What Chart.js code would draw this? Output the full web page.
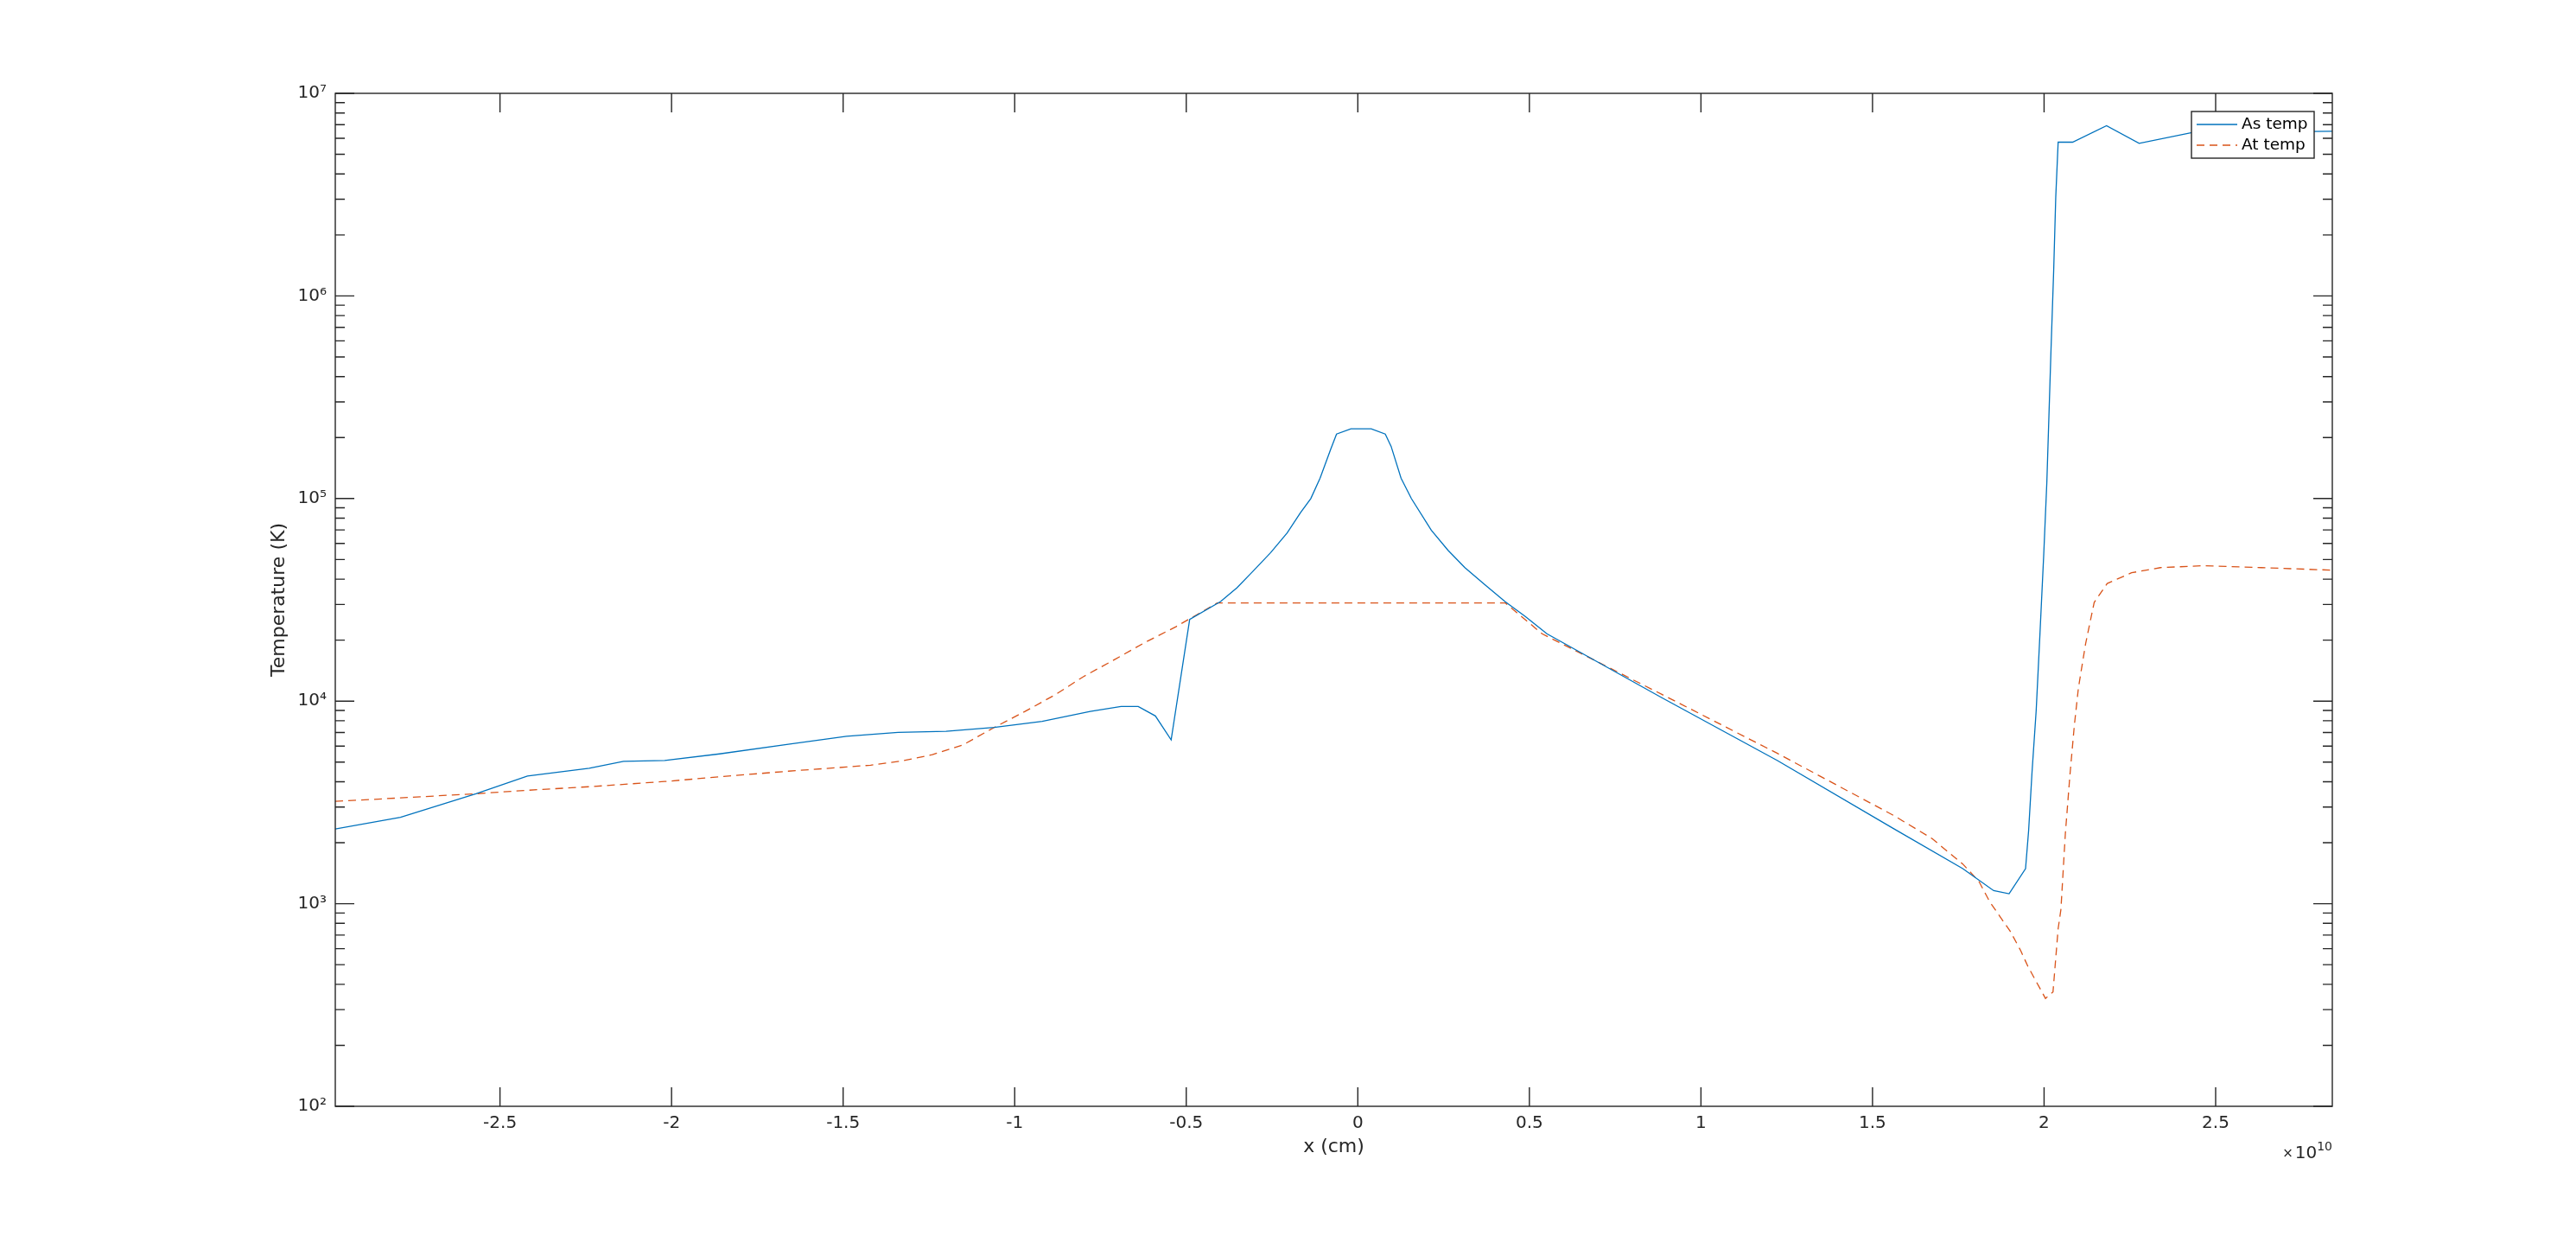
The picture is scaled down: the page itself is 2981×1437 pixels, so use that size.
<!DOCTYPE html>
<html>
<head>
<meta charset="utf-8">
<script src="https://cdn.jsdelivr.net/npm/chart.js@4.4.1/dist/chart.umd.min.js"></script>
<style>
  html, body { margin: 0; padding: 0; background: #fff; }
  canvas { display: block; }
</style>
</head>
<body>
<canvas id="temp_chart" width="2981" height="1437"></canvas>
<script>
// x positions are in units of 1e10 cm, temperatures in K
const as_x = [-2.98, -2.79, -2.57, -2.42, -2.24, -2.14, -2.02, -1.86, -1.66, -1.49, -1.34, -1.20,
    -1.06, -0.92, -0.78, -0.69, -0.64, -0.59, -0.544, -0.49, -0.40, -0.352, -0.303, -0.254, -0.206,
    -0.167, -0.137, -0.110, -0.079, -0.062, -0.02, 0.039, 0.080, 0.097, 0.126, 0.156, 0.214, 0.263,
    0.312, 0.371, 0.429, 0.488, 0.551, 0.886, 1.223, 1.561,
    1.763, 1.853, 1.898, 1.946, 1.955, 1.965, 1.977, 1.988, 1.999, 2.008, 2.020, 2.028, 2.034,
    2.041, 2.083, 2.182, 2.277, 2.431, 2.84];
const as_temp = [2340, 2670, 3490, 4270, 4660, 5040, 5090, 5490, 6120, 6710, 7010, 7100,
    7410, 7940, 8900, 9410, 9410, 8450, 6440, 25300, 31000, 36300, 44200, 54100, 67600,
    85100, 100000, 126000, 175000, 208000, 221000, 221000, 208000, 181000, 126000, 100000, 69800, 55500,
    45600, 37500, 31000, 26200, 21500, 10400, 5090, 2350,
    1490, 1160, 1120, 1490, 2300, 4500, 9000, 21500, 53000, 120000, 530000, 1340000, 3070000,
    5740000, 5740000, 6920000, 5660000, 6400000, 6500000];

const at_x = [-2.98, -2.79, -2.57, -2.42, -2.24, -2.02, -1.86, -1.66, -1.49, -1.42, -1.33, -1.24,
    -1.15, -1.06, -0.97, -0.88, -0.80, -0.71, -0.62, -0.53, -0.41, 0.43, 0.537, 0.886, 1.223,
    1.561, 1.673, 1.763, 1.810, 1.842, 1.902, 1.932, 1.953, 2.004, 2.026, 2.041, 2.049, 2.062,
    2.075, 2.088, 2.100, 2.121, 2.146, 2.184, 2.255, 2.339, 2.465, 2.633, 2.84];
const at_temp = [3200, 3330, 3490, 3630, 3780, 4010, 4230, 4510, 4730, 4830, 5060, 5440,
    6090, 7410, 8890, 10800, 13200, 16000, 19500, 23300, 30500, 30500, 21500, 10800, 5520,
    2730, 2100, 1570, 1290, 1020, 728, 586, 490, 341, 367, 753, 935, 2220,
    4250, 7530, 11600, 19200, 30700, 38100, 43000, 45600, 46600, 45600, 44300];

const x_ticks = [-2.5, -2, -1.5, -1, -0.5, 0, 0.5, 1, 1.5, 2, 2.5];
const y_ticks = [1e2, 1e3, 1e4, 1e5, 1e6, 1e7];
const x_exponent = 10;

const axis_color = '#262626';
const sup_digits = {'0': '⁰', '1': '¹', '2': '²', '3': '³', '4': '⁴', '5': '⁵', '6': '⁶', '7': '⁷', '8': '⁸', '9': '⁹', '-': '⁻'};

function to_sup(n) {
    return String(n).split('').map(c => sup_digits[c]).join('');
}

function to_points(xs, ys) {
    return xs.map((x, i) => ({x: x, y: ys[i]}));
}

// box, inward ticks, legend and the x10^10 label, matlab style
const matlab_axes = {
    id: 'matlab_axes',
    afterDraw(chart) {
        const ctx = chart.ctx;
        const area = chart.chartArea;
        const xs = chart.scales.x;
        const ys = chart.scales.y;
        ctx.save();
        ctx.strokeStyle = axis_color;
        ctx.lineWidth = 1.4;
        ctx.strokeRect(area.left, area.top, area.right - area.left, area.bottom - area.top);

        ctx.beginPath();
        x_ticks.forEach(v => {
            const px = xs.getPixelForValue(v);
            ctx.moveTo(px, area.bottom);
            ctx.lineTo(px, area.bottom - 22);
            ctx.moveTo(px, area.top);
            ctx.lineTo(px, area.top + 22);
        });
        for (let d = 2; d <= 7; d++) {
            const py = ys.getPixelForValue(Math.pow(10, d));
            ctx.moveTo(area.left, py);
            ctx.lineTo(area.left + 22, py);
            ctx.moveTo(area.right, py);
            ctx.lineTo(area.right - 22, py);
            if (d === 7) break;
            for (let k = 2; k <= 9; k++) {
                const pm = ys.getPixelForValue(k * Math.pow(10, d));
                ctx.moveTo(area.left, pm);
                ctx.lineTo(area.left + 11, pm);
                ctx.moveTo(area.right, pm);
                ctx.lineTo(area.right - 11, pm);
            }
        }
        ctx.stroke();

        // legend box
        const lx = area.right - 163;
        const ly = area.top + 21;
        ctx.fillStyle = '#ffffff';
        ctx.fillRect(lx, ly, 142, 54);
        ctx.strokeRect(lx, ly, 142, 54);
        ctx.font = '18.5px "DejaVu Sans"';
        ctx.textBaseline = 'middle';
        ctx.textAlign = 'left';
        chart.data.datasets.forEach((ds, i) => {
            const ry = ly + 15 + i * 24;
            ctx.save();
            ctx.strokeStyle = ds.borderColor;
            ctx.lineWidth = ds.borderWidth;
            ctx.setLineDash(ds.borderDash || []);
            ctx.beginPath();
            ctx.moveTo(lx + 6, ry);
            ctx.lineTo(lx + 53, ry);
            ctx.stroke();
            ctx.restore();
            ctx.fillStyle = '#000000';
            ctx.fillText(ds.label, lx + 58, ry);
        });

        // exponent label under the right end of the x axis
        ctx.fillStyle = axis_color;
        ctx.textBaseline = 'alphabetic';
        ctx.textAlign = 'right';
        let ex = area.right;
        const base_y = area.bottom + 60;
        ctx.font = '14px "DejaVu Sans"';
        ctx.fillText(String(x_exponent), ex, base_y - 9);
        ex -= ctx.measureText(String(x_exponent)).width;
        ctx.font = '20px "DejaVu Sans"';
        ctx.fillText('10', ex, base_y);
        ex -= ctx.measureText('10').width + 2;
        ctx.font = '15px "DejaVu Sans"';
        ctx.fillText('×', ex, base_y - 1);
        ctx.restore();
    }
};

Chart.defaults.font.family = '"DejaVu Sans"';
Chart.defaults.color = axis_color;

const chart_config = {
    type: 'line',
    data: {
        datasets: [{
            label: 'As temp',
            data: to_points(as_x, as_temp),
            borderColor: '#0072BD',
            borderWidth: 1.3,
            pointRadius: 0,
            tension: 0,
        }, {
            label: 'At temp',
            data: to_points(at_x, at_temp),
            borderColor: '#D95319',
            borderWidth: 1.3,
            borderDash: [9, 6],
            pointRadius: 0,
            tension: 0,
        }]
    },
    options: {
        responsive: false,
        animation: false,
        devicePixelRatio: 1,
        layout: {padding: {top: 108, right: 282, left: 0, bottom: 0}},
        plugins: {
            legend: {display: false},
            tooltip: {enabled: false},
        },
        scales: {
            x: {
                type: 'linear',
                min: Math.min(...as_x),
                max: Math.max(...as_x),
                grid: {display: false, drawTicks: false},
                border: {display: false},
                afterBuildTicks: scale => {
                    scale.ticks = x_ticks.map(v => ({value: v}));
                },
                afterFit: scale => {
                    scale.height = 157;
                },
                ticks: {
                    autoSkip: false,
                    maxRotation: 0,
                    padding: 8,
                    font: {size: 20},
                    callback: value => String(value),
                },
                title: {
                    display: true,
                    text: 'x (cm)',
                    font: {size: 22},
                    padding: {top: 0, bottom: 97},
                },
            },
            y: {
                type: 'logarithmic',
                min: 100,
                max: 1e7,
                grid: {display: false, drawTicks: false},
                border: {display: false},
                afterBuildTicks: scale => {
                    scale.ticks = y_ticks.map(v => ({value: v, major: true}));
                },
                afterFit: scale => {
                    scale.width = 388;
                },
                ticks: {
                    padding: 10,
                    font: {size: 20},
                    callback: value => '10' + to_sup(Math.round(Math.log10(value))),
                },
                title: {
                    display: true,
                    text: 'Temperature (K)',
                    font: {size: 22},
                    padding: {top: 310, bottom: 0},
                },
            },
        },
    },
    plugins: [matlab_axes],
};

const chart = new Chart(document.getElementById('temp_chart'), chart_config);
</script>
</body>
</html>
